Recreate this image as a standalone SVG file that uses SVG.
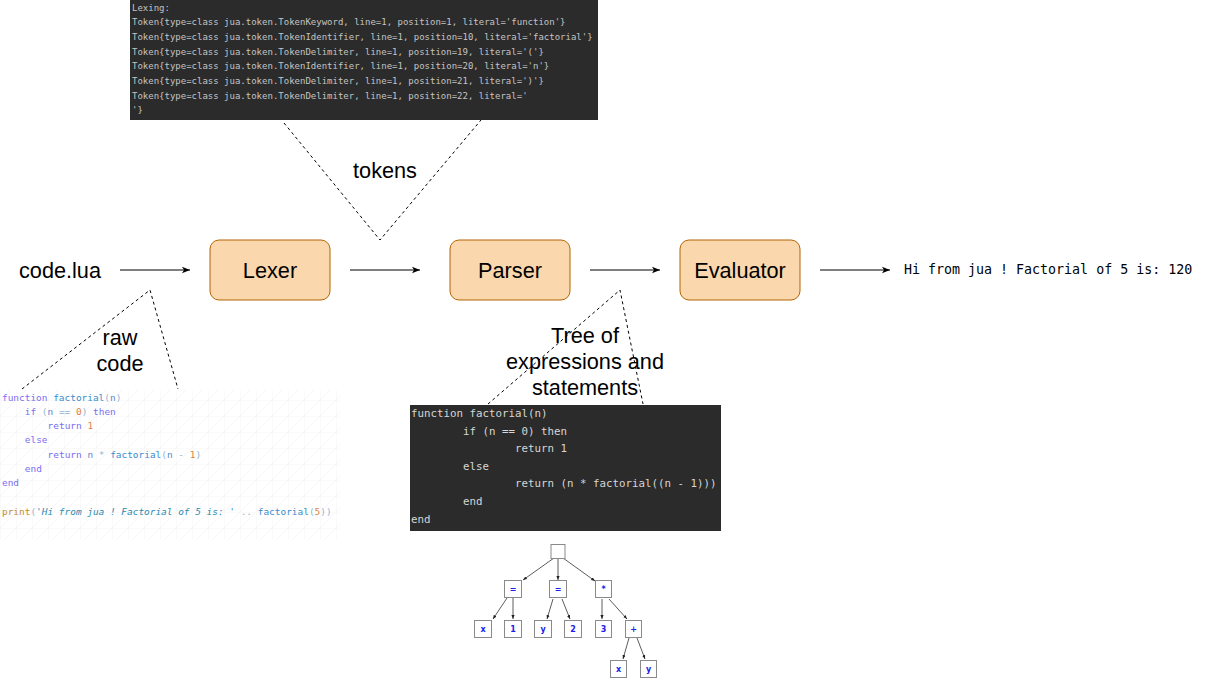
<svg xmlns="http://www.w3.org/2000/svg" width="1207" height="682" viewBox="0 0 1207 682">
<defs>
<marker id="arr" viewBox="0 0 10 10" refX="10" refY="5" markerWidth="8" markerHeight="8" markerUnits="userSpaceOnUse" orient="auto">
<path d="M0,1 L10,5 L0,9 L2.5,5 Z" fill="#000"/>
</marker>
<marker id="tarr" viewBox="0 0 10 10" refX="10" refY="5" markerWidth="4" markerHeight="4" markerUnits="userSpaceOnUse" orient="auto">
<path d="M0,1 L10,5 L0,9 Z" fill="#222"/>
</marker>
<pattern id="grid" width="16" height="16" patternUnits="userSpaceOnUse">
<path d="M0,0 L16,0 M0,0 L0,16 M0,16 L16,0" stroke="#f6f6f6" stroke-width="1" fill="none"/>
</pattern>
</defs>
<style>
.lbl{font-family:"Liberation Sans",Arial,sans-serif;font-size:21.7px;fill:#000;text-anchor:middle}
.box{fill:#fad7ac;stroke:#b46504;stroke-width:1}
.flow{stroke:#000;stroke-width:1;fill:none}
.dash{stroke:#000;stroke-width:1;fill:none;stroke-dasharray:3 3}
.term{font-family:"DejaVu Sans Mono",monospace;font-size:9px;fill:#c4c4c4}
.mid{font-family:"DejaVu Sans Mono",monospace;font-size:10.8px;fill:#d6d6d6}
.lua{font-family:"DejaVu Sans Mono",monospace;font-size:9.45px}
.kw{fill:#7a6ef2}.fn{fill:#3a8dcc}.id{fill:#5a8acc}.pn{fill:#95b4d4}.nm{fill:#e0833f}.pr{fill:#c48a2a}.st{fill:#2a8ab0;font-style:italic}
.out{font-family:"DejaVu Sans Mono",monospace;font-size:13.3px;fill:#000}
.tb{fill:#fff;stroke:#8a8a8a;stroke-width:1}
.tt{font-family:"DejaVu Sans",sans-serif;font-size:8px;font-weight:bold;fill:#2020e8;text-anchor:middle}
.te{stroke:#333;stroke-width:0.8;fill:none}
</style>

<g id="lexing-output">
<rect x="130" y="0" width="468" height="120" fill="#2b2b2b"/>
<text class="term" x="132" y="10.5">Lexing:</text>
<text class="term" x="132" y="25.2">Token{type=class jua.token.TokenKeyword, line=1, position=1, literal='function'}</text>
<text class="term" x="132" y="39.9">Token{type=class jua.token.TokenIdentifier, line=1, position=10, literal='factorial'}</text>
<text class="term" x="132" y="54.6">Token{type=class jua.token.TokenDelimiter, line=1, position=19, literal='('}</text>
<text class="term" x="132" y="69.3">Token{type=class jua.token.TokenIdentifier, line=1, position=20, literal='n'}</text>
<text class="term" x="132" y="84">Token{type=class jua.token.TokenDelimiter, line=1, position=21, literal=')'}</text>
<text class="term" x="132" y="98.7">Token{type=class jua.token.TokenDelimiter, line=1, position=22, literal='</text>
<text class="term" x="132" y="113.4">'}</text>
</g>

<g id="source-code">
<rect x="0" y="390" width="340" height="150" fill="#fff"/>
<rect x="0" y="390" width="340" height="150" fill="url(#grid)"/>
<text class="lua" x="2" y="400.5"><tspan class="kw">function</tspan> <tspan class="fn">factorial</tspan><tspan class="pn">(</tspan><tspan class="id">n</tspan><tspan class="pn">)</tspan></text>
<text class="lua" x="24.8" y="414.75" xml:space="preserve"><tspan class="kw">if</tspan> <tspan class="pn">(</tspan><tspan class="id">n</tspan> <tspan class="pn">==</tspan> <tspan class="nm">0</tspan><tspan class="pn">)</tspan> <tspan class="kw">then</tspan></text>
<text class="lua" x="47.6" y="429"><tspan class="kw">return</tspan> <tspan class="nm">1</tspan></text>
<text class="lua" x="24.8" y="443.25"><tspan class="kw">else</tspan></text>
<text class="lua" x="47.6" y="457.5" xml:space="preserve"><tspan class="kw">return</tspan> <tspan class="id">n</tspan> <tspan class="pn">*</tspan> <tspan class="fn">factorial</tspan><tspan class="pn">(</tspan><tspan class="id">n</tspan> <tspan class="pn">-</tspan> <tspan class="nm">1</tspan><tspan class="pn">)</tspan></text>
<text class="lua" x="24.8" y="471.75"><tspan class="kw">end</tspan></text>
<text class="lua" x="2" y="486"><tspan class="kw">end</tspan></text>
<text class="lua" x="2" y="514.5" xml:space="preserve"><tspan class="pr">print</tspan><tspan class="pn">(</tspan><tspan class="st">'Hi from jua ! Factorial of 5 is: '</tspan> <tspan class="pn">..</tspan> <tspan class="fn">factorial</tspan><tspan class="pn">(</tspan><tspan class="nm">5</tspan><tspan class="pn">))</tspan></text>
</g>

<g id="parsed-code">
<rect x="410" y="405" width="311" height="126" fill="#2b2b2b"/>
<text class="mid" x="411" y="417">function factorial(n)</text>
<text class="mid" x="463" y="434.6">if (n == 0) then</text>
<text class="mid" x="515" y="452.2">return 1</text>
<text class="mid" x="463" y="469.8">else</text>
<text class="mid" x="515" y="487.4">return (n * factorial((n - 1)))</text>
<text class="mid" x="463" y="505">end</text>
<text class="mid" x="411" y="522.6">end</text>
</g>

<g id="input">
<text class="lbl" x="60" y="278">code.lua</text>
</g>
<g id="lexer">
<rect class="box" x="210" y="240" width="120" height="60" rx="9"/>
<text class="lbl" x="270" y="278">Lexer</text>
</g>
<g id="parser">
<rect class="box" x="450" y="240" width="120" height="60" rx="9"/>
<text class="lbl" x="510" y="278">Parser</text>
</g>
<g id="evaluator">
<rect class="box" x="680" y="240" width="120" height="60" rx="9"/>
<text class="lbl" x="740" y="278">Evaluator</text>
</g>
<g id="output">
<text class="out" x="904" y="274">Hi from jua ! Factorial of 5 is: 120</text>
</g>

<g id="connectors">
<line class="flow" x1="120" y1="270" x2="190" y2="270" marker-end="url(#arr)"/>
<line class="flow" x1="350" y1="270" x2="420" y2="270" marker-end="url(#arr)"/>
<line class="flow" x1="590" y1="270" x2="660" y2="270" marker-end="url(#arr)"/>
<line class="flow" x1="820" y1="270" x2="890" y2="270" marker-end="url(#arr)"/>
<polyline class="dash" points="284,123 380,240 481,120"/>
<polyline class="dash" points="22,389 150,290 178,389"/>
<polyline class="dash" points="488,404 620,290 643,404"/>
</g>

<g id="labels">
<text class="lbl" x="385" y="178">tokens</text>
<text class="lbl" x="120" y="345">raw</text>
<text class="lbl" x="120" y="371">code</text>
<text class="lbl" x="585" y="343">Tree of</text>
<text class="lbl" x="585" y="369">expressions and</text>
<text class="lbl" x="585" y="395">statements</text>
</g>

<g id="ast-tree">
<g id="ast-edges">
<line class="te" x1="554" y1="558" x2="523" y2="580" marker-end="url(#tarr)"/>
<line class="te" x1="558" y1="558" x2="558" y2="580" marker-end="url(#tarr)"/>
<line class="te" x1="563" y1="558" x2="595" y2="581" marker-end="url(#tarr)"/>
<line class="te" x1="507" y1="598" x2="493" y2="619" marker-end="url(#tarr)"/>
<line class="te" x1="513" y1="598" x2="513" y2="619" marker-end="url(#tarr)"/>
<line class="te" x1="553" y1="599" x2="547" y2="619" marker-end="url(#tarr)"/>
<line class="te" x1="562" y1="599" x2="570" y2="619" marker-end="url(#tarr)"/>
<line class="te" x1="602" y1="599" x2="602" y2="619" marker-end="url(#tarr)"/>
<line class="te" x1="609" y1="599" x2="627" y2="619" marker-end="url(#tarr)"/>
<line class="te" x1="629" y1="638" x2="623" y2="659" marker-end="url(#tarr)"/>
<line class="te" x1="637" y1="638" x2="645" y2="659" marker-end="url(#tarr)"/>
</g>
<g id="ast-root"><rect class="tb" x="551" y="544.5" width="14" height="14"/></g>
<g id="ast-eq1"><rect class="tb" x="504.5" y="580.5" width="17" height="17"/><text class="tt" x="513" y="592">=</text></g>
<g id="ast-eq2"><rect class="tb" x="549.5" y="580.5" width="17" height="17"/><text class="tt" x="558" y="592">=</text></g>
<g id="ast-mul"><rect class="tb" x="595.5" y="580.5" width="16" height="17"/><text class="tt" x="603.5" y="592">*</text></g>
<g id="ast-x1"><rect class="tb" x="474.5" y="620.5" width="17" height="17"/><text class="tt" x="483" y="632">x</text></g>
<g id="ast-1"><rect class="tb" x="504.5" y="620.5" width="17" height="17"/><text class="tt" x="513" y="632">1</text></g>
<g id="ast-y1"><rect class="tb" x="534.5" y="620.5" width="17" height="17"/><text class="tt" x="543" y="632">y</text></g>
<g id="ast-2"><rect class="tb" x="564.5" y="620.5" width="17" height="17"/><text class="tt" x="573" y="632">2</text></g>
<g id="ast-3"><rect class="tb" x="595.5" y="620.5" width="16" height="17"/><text class="tt" x="603.5" y="632">3</text></g>
<g id="ast-plus"><rect class="tb" x="625.5" y="620.5" width="16" height="17"/><text class="tt" x="633.5" y="632">+</text></g>
<g id="ast-x2"><rect class="tb" x="610.5" y="660.5" width="16" height="17"/><text class="tt" x="618.5" y="672">x</text></g>
<g id="ast-y2"><rect class="tb" x="640.5" y="660.5" width="16" height="17"/><text class="tt" x="648.5" y="672">y</text></g>
</g>
</svg>
